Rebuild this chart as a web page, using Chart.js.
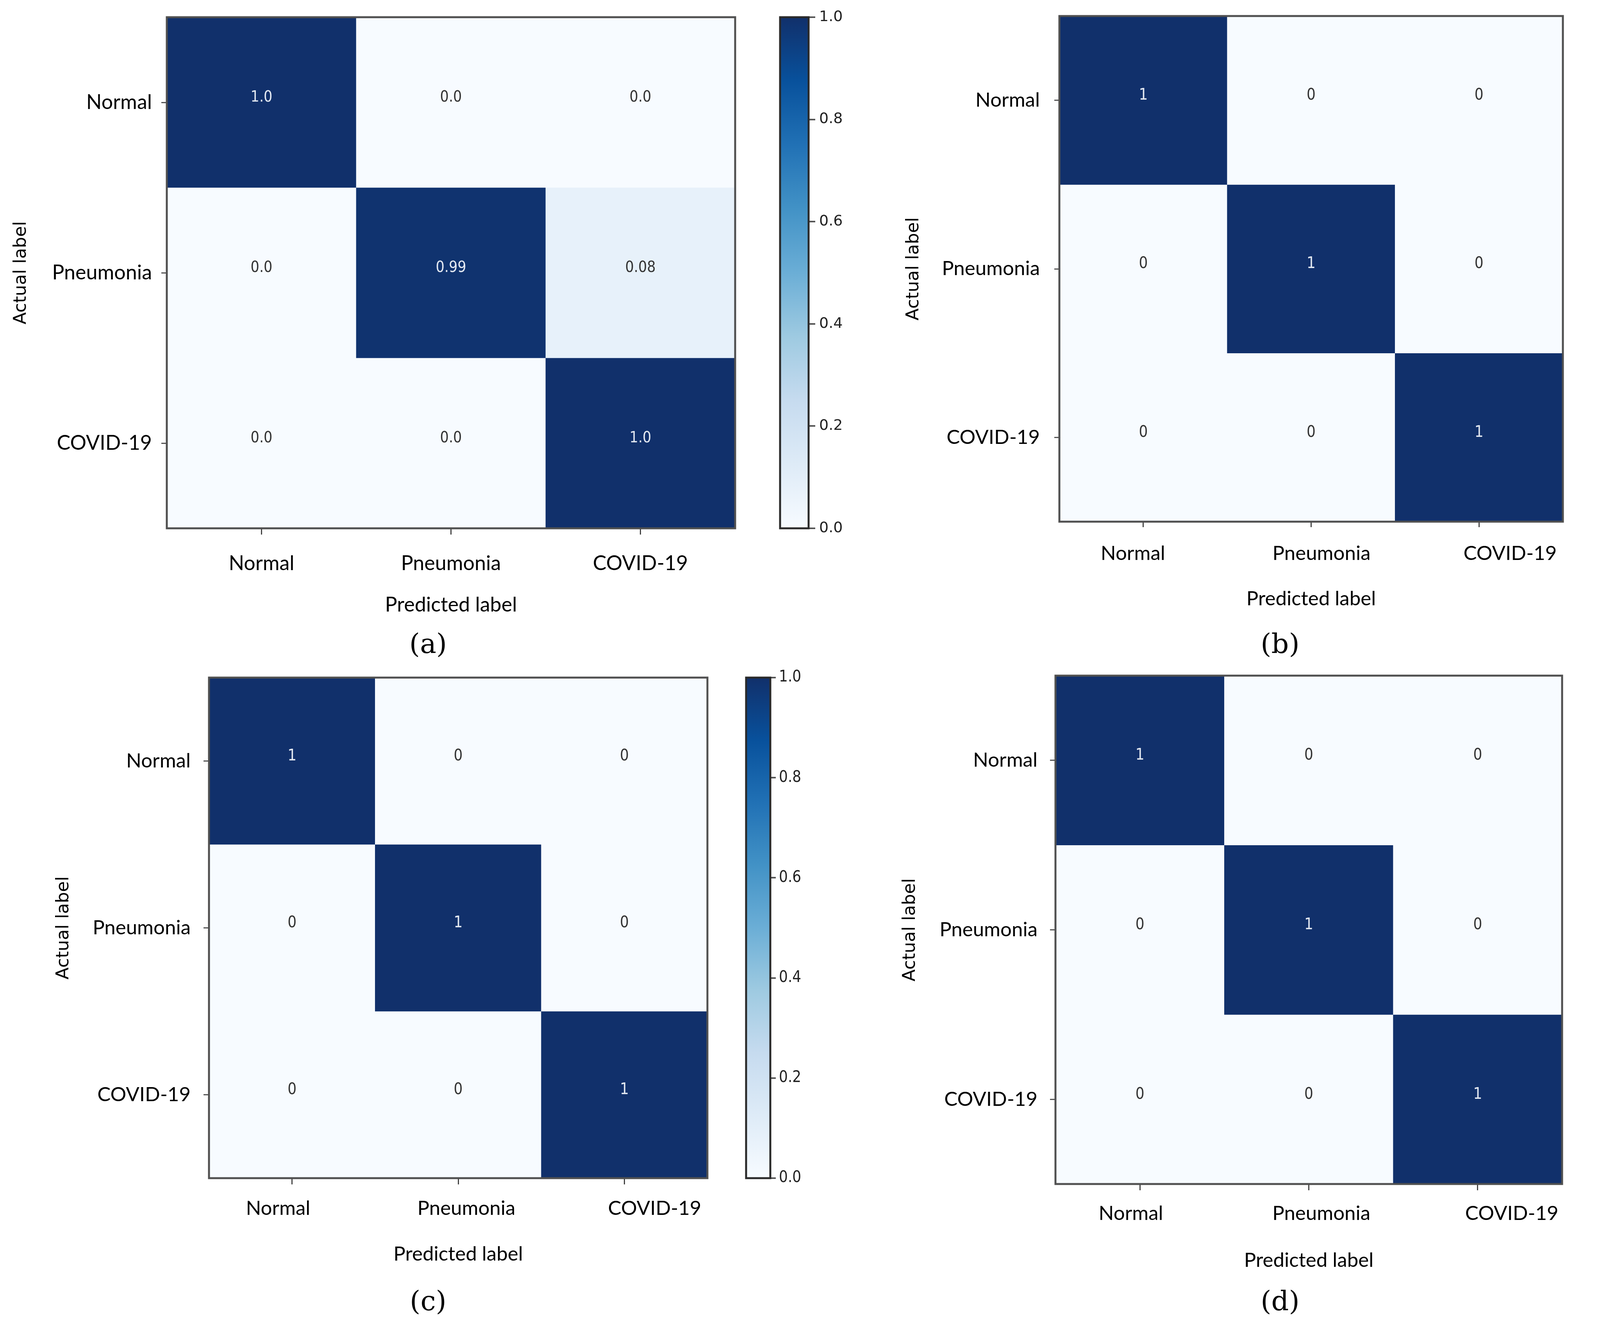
<!DOCTYPE html>
<html><head><meta charset="utf-8">
<script src="https://cdn.jsdelivr.net/npm/chart.js@4"></script>
<style>
html,body{margin:0;padding:0;background:#fff;width:4264px;height:3378px;overflow:hidden;}
body{position:relative;}
canvas{position:absolute;}
.cap{position:absolute;font-family:"DejaVu Serif",serif;font-size:70px;color:#000;transform:translate(-50%,-50%);white-space:nowrap;line-height:1;}
</style></head><body>
<script>
// ---- data ----
const predictedLabels = ['Normal', 'Pneumonia', 'COVID-19'];
const actualLabels = ['Normal', 'Pneumonia', 'COVID-19'];
const valuesA = [[1.0, 0.0, 0.0], [0.0, 0.99, 0.08], [0.0, 0.0, 1.0]];
const valuesB = [[1, 0, 0], [0, 1, 0], [0, 0, 1]];
const valuesC = [[1, 0, 0], [0, 1, 0], [0, 0, 1]];
const valuesD = [[1, 0, 0], [0, 1, 0], [0, 0, 1]];
const colorbarTicks = [0.0, 0.2, 0.4, 0.6, 0.8, 1.0];
const captions = ['(a)', '(b)', '(c)', '(d)'];

// ---- colormap (Blues) ----
const bluesStops = ['#f7fbff','#deebf7','#c6dbef','#9ecae1','#6baed6','#4292c6','#2171b5','#08519c','#11306b'];
function hex2rgb(h){return [parseInt(h.slice(1,3),16),parseInt(h.slice(3,5),16),parseInt(h.slice(5,7),16)];}
function blues(v){
  v = Math.max(0, Math.min(1, v));
  const n = bluesStops.length, s = v*(n-1);
  const i = Math.min(Math.floor(s), n-2), t = s - i;
  const a = hex2rgb(bluesStops[i]), b = hex2rgb(bluesStops[i+1]);
  const c = a.map((x,k)=>Math.round(x+(b[k]-x)*t));
  return `rgb(${c[0]},${c[1]},${c[2]})`;
}

const SANS_C = '"DejaVu Sans Condensed", "DejaVu Sans", sans-serif';
const SANS = '"DejaVu Sans", sans-serif';
const PAGE_W = 4264;

function mk(left, top, w, h){
  w = Math.min(w, PAGE_W - left);
  const c = document.createElement('canvas');
  c.width = w; c.height = h;
  c.style.left = left+'px'; c.style.top = top+'px';
  c.style.width = w+'px'; c.style.height = h+'px';
  document.body.appendChild(c);
  return c;
}

function noPad(s){ s.paddingTop = 0; s.paddingBottom = 0; s.paddingLeft = 0; s.paddingRight = 0; }

function framePlugin(color, width){
  return {
    id:'frame',
    afterDatasetsDraw(chart){
      const ca = chart.chartArea, ctx = chart.ctx;
      ctx.save(); ctx.strokeStyle = color; ctx.lineWidth = width;
      ctx.strokeRect(ca.left, ca.top, ca.right-ca.left, ca.bottom-ca.top);
      ctx.restore();
    }
  };
}

function valuePlugin(p){
  return {
    id:'cellValues',
    afterDatasetsDraw(chart){
      const ctx = chart.ctx;
      ctx.save();
      ctx.font = `${p.valueSize}px ${p.valueFont}`;
      ctx.textAlign = 'center'; ctx.textBaseline = 'middle';
      chart.data.datasets.forEach((ds, r) => {
        chart.getDatasetMeta(r).data.forEach((el, c) => {
          const v = p.values[r][c];
          ctx.fillStyle = v > 0.5 ? '#e3e8f1' : '#333333';
          ctx.fillText(p.fmt(v), el.x, (el.y + el.base)/2 + p.valueDy);
        });
      });
      ctx.restore();
    }
  };
}

function heatmap(p){
  const yTitleSize = 45;
  const cLeft = Math.round(p.yTitleX - 0.6*yTitleSize);
  const cTop = p.T - 20;
  const xlBottom = Math.round(p.xTitleY + 0.6*p.xTitleSize);
  const W = p.R + 20 - cLeft, H = xlBottom - cTop;
  const canvas = mk(cLeft, cTop, W, H);
  const xlHeight = xlBottom - (p.B + p.xTick);
  const xlPad = p.xLabelY - (p.B + p.xTick) - 0.6*p.labelSize;
  const datasets = actualLabels.map((name, r) => ({
    label: name,
    data: predictedLabels.map(() => [r, r + 1]),
    backgroundColor: p.values[r].map(blues),
    borderWidth: 0, barPercentage: 1, categoryPercentage: 1, grouped: false,
    xAxisID: 'x', yAxisID: 'y'
  }));
  new Chart(canvas, {
    type: 'bar',
    data: {labels: predictedLabels, datasets},
    options: {
      responsive:false, maintainAspectRatio:false, animation:false, devicePixelRatio:1,
      layout:{padding:{left:0, top:20, right:20, bottom:0}},
      plugins:{legend:{display:false}, tooltip:{enabled:false}, title:{display:false}},
      scales:{
        x:{ type:'category', position:'bottom', weight:0, offset:true,
            grid:{display:true, drawOnChartArea:false, drawTicks:true, tickLength:p.xTick, color:'#444', lineWidth:3, offset:false},
            border:{display:false}, ticks:{display:false},
            afterFit: s => { s.height = p.xTick; noPad(s); } },
        xl:{ type:'linear', axis:'x', position:'bottom', weight:1, offset:false,
            min:p.xSpan[0], max:p.xSpan[1], bounds:'data', beginAtZero:false,
            afterBuildTicks: s => { s.ticks = predictedLabels.map((_, i) => ({value: i + 0.5})); },
            ticks:{ callback: v => predictedLabels[Math.floor(v)], font:{family:'Lato', size:p.labelSize}, color:'#000', padding:xlPad, maxRotation:0, minRotation:0, autoSkip:false },
            grid:{display:false, drawTicks:false, offset:false}, border:{display:false},
            title:{display:true, text:'Predicted label', font:{family:'Lato', size:p.xTitleSize}, color:'#000', padding:0},
            afterFit: s => { s.height = xlHeight; noPad(s); } },
        y:{ type:'linear', position:'left', min:0, max:actualLabels.length, reverse:true, bounds:'data', offset:false,
            afterBuildTicks: s => { s.ticks = actualLabels.map((_, i) => ({value: i + 0.5})); },
            ticks:{ callback: v => actualLabels[Math.floor(v)], font:{family:'Lato', size:p.labelSize}, color:'#000', padding:p.yPad, autoSkip:false },
            grid:{display:true, drawOnChartArea:false, drawTicks:true, tickLength:p.yTick, color:'#555', lineWidth:3},
            border:{display:false},
            title:{display:true, text:'Actual label', font:{family:'DejaVu Sans', size:yTitleSize}, color:'#000', padding:0},
            afterFit: s => { s.width = p.L - cLeft; noPad(s); } }
      }
    },
    plugins:[valuePlugin(p), framePlugin('#505050', 5)]
  });
}

function cbGradient(chart){
  const y = chart.scales && chart.scales.y;
  if (!chart.chartArea || !y) return blues(0.5);
  const g = chart.ctx.createLinearGradient(0, y.getPixelForValue(colorbarTicks[0]), 0, y.getPixelForValue(colorbarTicks[colorbarTicks.length-1]));
  bluesStops.forEach((c, i) => g.addColorStop(i/(bluesStops.length-1), c));
  return g;
}

function colorbar(p){
  const padTB = 30, padL = 10, axisW = 160;
  const cLeft = p.L - padL, cTop = p.T - padTB;
  const W = p.R - p.L + padL + axisW, H = p.B - p.T + 2*padTB;
  const canvas = mk(cLeft, cTop, W, H);
  const avail = canvas.width - padL - (p.R - p.L);
  new Chart(canvas, {
    type:'bar',
    data:{labels:['colorbar'], datasets:[{
      data:[[colorbarTicks[0], colorbarTicks[colorbarTicks.length-1]]],
      backgroundColor: c => cbGradient(c.chart),
      borderWidth:0, barPercentage:1, categoryPercentage:1
    }]},
    options:{
      responsive:false, maintainAspectRatio:false, animation:false, devicePixelRatio:1,
      layout:{padding:{left:padL, top:padTB, bottom:padTB, right:0}},
      plugins:{legend:{display:false}, tooltip:{enabled:false}},
      scales:{
        x:{display:false},
        y:{ position:'right', min:0, max:1, bounds:'data',
            afterBuildTicks: s => { s.ticks = colorbarTicks.map(value => ({value})); },
            ticks:{ callback: v => v.toFixed(1), font:{family:p.font, size:p.fontSize}, color:'#222', padding:p.pad, autoSkip:false },
            grid:{display:true, drawOnChartArea:false, drawTicks:true, tickLength:p.tick, color:'#555', lineWidth:4},
            border:{display:false},
            afterFit: s => { s.width = avail; noPad(s); } }
      }
    },
    plugins:[framePlugin('#2a2a2a', 5)]
  });
}

const fmtFloat = v => Number.isInteger(v) ? v.toFixed(1) : String(v);
const fmtInt = v => String(v);

heatmap({values:valuesA, L:427, R:1882, T:44, B:1352, yTitleX:54, yTick:14, yPad:24, xTick:16,
  xLabelY:1442, xTitleY:1548, xSpan:[0,3], labelSize:52, xTitleSize:52,
  valueFont:SANS_C, valueSize:39, valueDy:-12, fmt:fmtFloat});
heatmap({values:valuesB, L:2712, R:4001, T:41, B:1335, yTitleX:2339, yTick:13, yPad:37, xTick:14,
  xLabelY:1417, xTitleY:1532, xSpan:[0.11,2.78], labelSize:51, xTitleSize:51,
  valueFont:SANS_C, valueSize:40, valueDy:-12, fmt:fmtInt});
heatmap({values:valuesC, L:535, R:1811, T:1734, B:3015, yTitleX:163, yTick:14, yPad:33, xTick:16,
  xLabelY:3093, xTitleY:3209, xSpan:[0.133,2.78], labelSize:51, xTitleSize:51,
  valueFont:SANS_C, valueSize:40, valueDy:-12, fmt:fmtInt});
heatmap({values:valuesD, L:2702, R:3999, T:1729, B:3030, yTitleX:2330, yTick:14, yPad:32, xTick:16,
  xLabelY:3106, xTitleY:3225, xSpan:[0.104,2.764], labelSize:51, xTitleSize:51,
  valueFont:SANS_C, valueSize:40, valueDy:-12, fmt:fmtInt});

colorbar({L:1997, R:2070, T:44, B:1352, tick:17, pad:10, font:SANS, fontSize:38});
colorbar({L:4102, R:4170, T:41, B:1335, tick:14, pad:8, font:SANS_C, fontSize:38});
colorbar({L:1910, R:1972, T:1734, B:3015, tick:14, pad:8, font:SANS_C, fontSize:40});
colorbar({L:4099, R:4166, T:1729, B:3030, tick:14, pad:8, font:SANS_C, fontSize:38});

const capPos = [[1096,1647],[3277,1647],[1096,3329],[3277,3329]];
captions.forEach((t, i) => {
  const d = document.createElement('div');
  d.className = 'cap'; d.textContent = t;
  d.style.left = capPos[i][0]+'px'; d.style.top = capPos[i][1]+'px';
  document.body.appendChild(d);
});
</script>
</body></html>
